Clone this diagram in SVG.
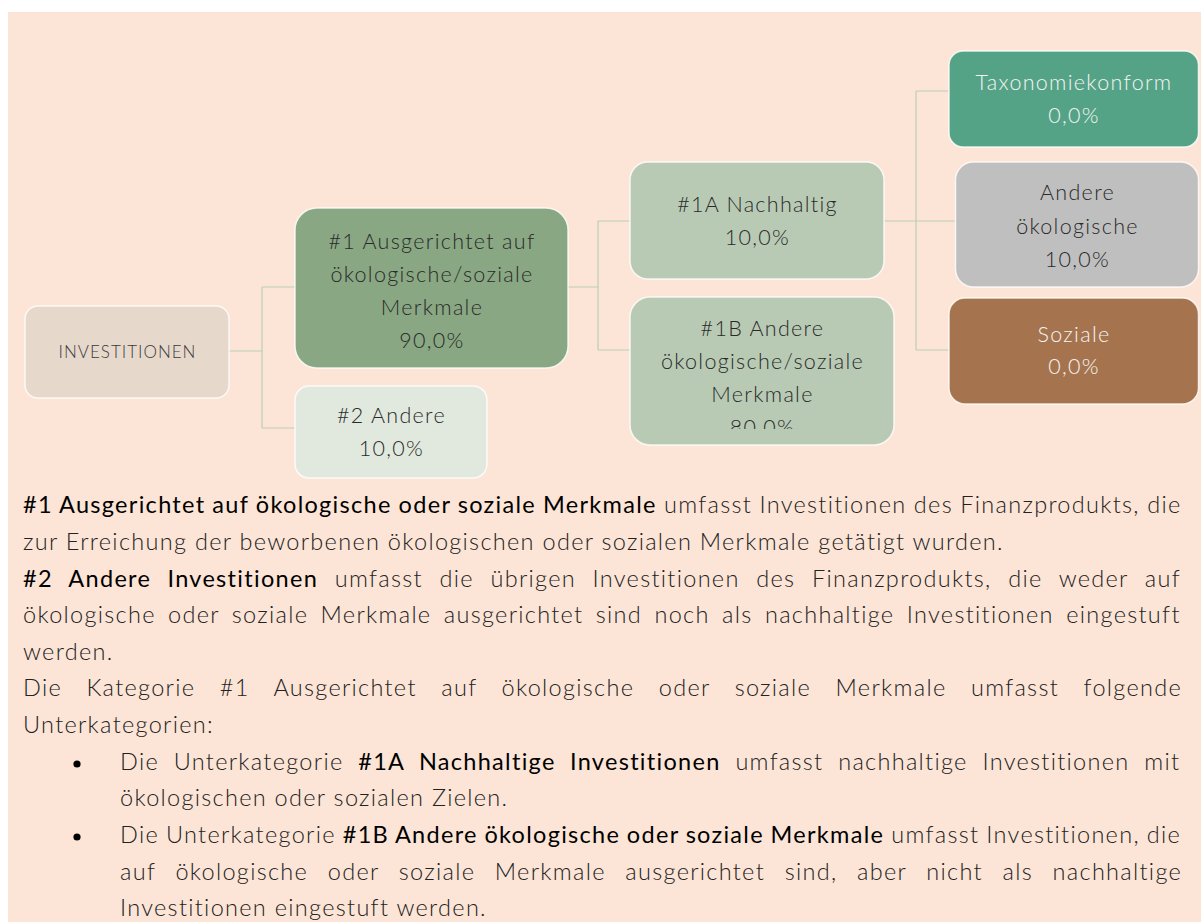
<svg xmlns="http://www.w3.org/2000/svg" width="1201" height="922" viewBox="0 0 1201 922">
  <style>
    .node-text { font-family: "Lato", "Liberation Sans", sans-serif; font-weight: 300; font-size: 21.5px; letter-spacing: 1.3px; fill: #2a2a2a; text-anchor: middle; }
    .node-text.light { fill: #f4f4f4; }
    .root-text { font-family: "Lato", "Liberation Sans", sans-serif; font-weight: 300; font-size: 17px; letter-spacing: 1px; fill: #3a3a3a; text-anchor: middle; }
    .box { stroke: #ffffff; stroke-width: 1.5; stroke-opacity: 0.8; }
    .conn { fill: none; stroke: #b9cfb5; stroke-width: 1.2; }
    .body { font-family: "Lato", "Liberation Sans", sans-serif; font-weight: 300; font-size: 23.5px; letter-spacing: 1.3px; fill: #222222; }
    .b { font-weight: 400; fill: #000000; }
  </style>
  <defs>
    <clipPath id="clip1b">
      <rect x="630" y="297" width="264" height="132"/>
    </clipPath>
  </defs>

  <!-- panel background -->
  <rect x="0" y="0" width="1201" height="922" fill="#ffffff"/>
  <rect x="8" y="12" width="1193" height="910" fill="#fce5d6"/>

  <!-- connectors -->
  <g id="connectors">
    <path class="conn" d="M229,351 H262 M262,287 V428 M262,287 H295 M262,428 H295"/>
    <path class="conn" d="M568,287 H598 M598,221 V350 M598,221 H630 M598,350 H630"/>
    <path class="conn" d="M884,221 H955.5 M916,91 V350 M916,91 H949 M916,350 H949"/>
  </g>

  <g id="node-investitionen">
    <rect class="box" x="25" y="306" width="204" height="92" rx="13" fill="#e7d8cc"/>
    <text class="root-text" x="127.5" y="358">INVESTITIONEN</text>
  </g>

  <g id="node-1">
    <rect class="box" x="295" y="208" width="273" height="160" rx="22" fill="#89a782"/>
    <text class="node-text" x="432" y="248.5">#1 Ausgerichtet auf</text>
    <text class="node-text" x="432" y="281.5">ökologische/soziale</text>
    <text class="node-text" x="432" y="314.5">Merkmale</text>
    <text class="node-text" x="432" y="347.5">90,0%</text>
  </g>

  <g id="node-2">
    <rect class="box" x="295" y="386" width="192" height="92" rx="14" fill="#e1e9df"/>
    <text class="node-text" x="391.5" y="423">#2 Andere</text>
    <text class="node-text" x="391.5" y="456">10,0%</text>
  </g>

  <g id="node-1a">
    <rect class="box" x="630" y="162" width="254" height="117" rx="18" fill="#b8cab4"/>
    <text class="node-text" x="757.5" y="212">#1A Nachhaltig</text>
    <text class="node-text" x="757.5" y="244.5">10,0%</text>
  </g>

  <g id="node-1b">
    <rect class="box" x="630" y="297" width="264" height="148" rx="20" fill="#b8cab4"/>
    <g clip-path="url(#clip1b)">
      <text class="node-text" x="762.5" y="336">#1B Andere</text>
      <text class="node-text" x="762.5" y="369">ökologische/soziale</text>
      <text class="node-text" x="762.5" y="402">Merkmale</text>
      <text class="node-text" x="762.5" y="435">80,0%</text>
    </g>
  </g>

  <g id="node-taxonomie">
    <rect class="box" x="949" y="51" width="249.5" height="96" rx="14" fill="#55a386"/>
    <text class="node-text light" x="1074" y="90">Taxonomiekonform</text>
    <text class="node-text light" x="1074" y="122.5">0,0%</text>
  </g>

  <g id="node-andere-oeko">
    <rect class="box" x="955.5" y="162" width="243" height="125" rx="18" fill="#bfbfbf"/>
    <text class="node-text" x="1077.5" y="200">Andere</text>
    <text class="node-text" x="1077.5" y="233.5">ökologische</text>
    <text class="node-text" x="1077.5" y="266.5">10,0%</text>
  </g>

  <g id="node-soziale">
    <rect class="box" x="949" y="298" width="249.5" height="106" rx="16" fill="#a5744f"/>
    <text class="node-text light" x="1074" y="341.5">Soziale</text>
    <text class="node-text light" x="1074" y="374">0,0%</text>
  </g>

  <!-- explanatory text, justified lines use per-line word spacing -->
  <g id="legend-text" class="body">
    <text x="23" y="513" word-spacing="-0.34"><tspan class="b">#1 Ausgerichtet auf ökologische oder soziale Merkmale</tspan> umfasst Investitionen des Finanzprodukts, die</text>
    <text x="23" y="549.5">zur Erreichung der beworbenen ökologischen oder sozialen Merkmale getätigt wurden.</text>
    <text x="23" y="586.5" word-spacing="8.96"><tspan class="b">#2 Andere Investitionen</tspan> umfasst die übrigen Investitionen des Finanzprodukts, die weder auf</text>
    <text x="23" y="623" word-spacing="4.7">ökologische oder soziale Merkmale ausgerichtet sind noch als nachhaltige Investitionen eingestuft</text>
    <text x="23" y="659.5">werden.</text>
    <text x="23" y="696" word-spacing="16.85">Die Kategorie #1 Ausgerichtet auf ökologische oder soziale Merkmale umfasst folgende</text>
    <text x="23" y="733">Unterkategorien:</text>
    <circle cx="77" cy="764" r="3.6" fill="#000000"/>
    <text x="120" y="769.5" word-spacing="7.06">Die Unterkategorie <tspan class="b">#1A Nachhaltige Investitionen</tspan> umfasst nachhaltige Investitionen mit</text>
    <text x="120" y="806">ökologischen oder sozialen Zielen.</text>
    <circle cx="77" cy="837" r="3.6" fill="#000000"/>
    <text x="120" y="843" word-spacing="-0.68">Die Unterkategorie <tspan class="b">#1B Andere ökologische oder soziale Merkmale</tspan> umfasst Investitionen, die</text>
    <text x="120" y="879.5" word-spacing="11.98">auf ökologische oder soziale Merkmale ausgerichtet sind, aber nicht als nachhaltige</text>
    <text x="120" y="916">Investitionen eingestuft werden.</text>
  </g>
</svg>
